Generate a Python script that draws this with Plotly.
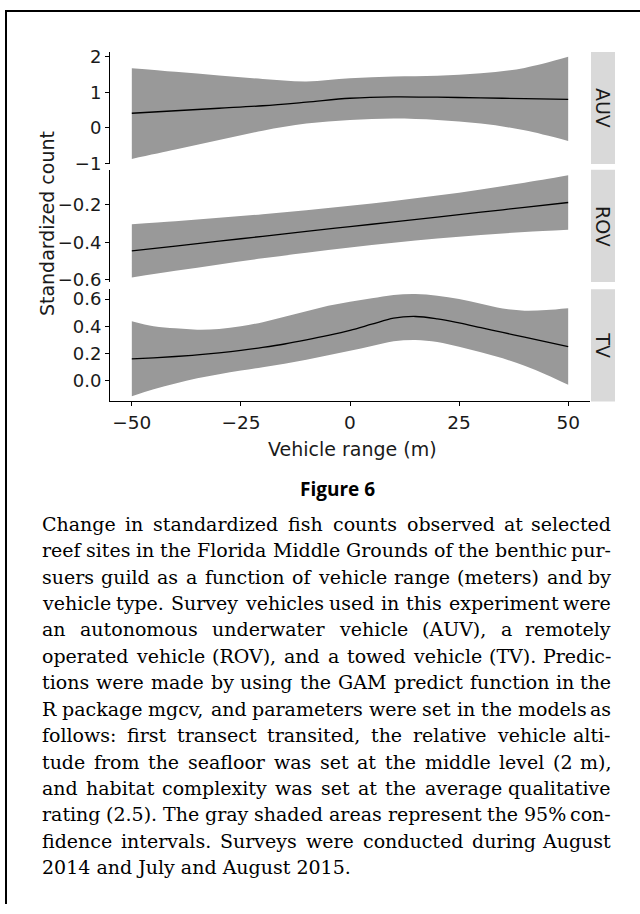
import plotly.graph_objects as go

W, H = 640, 914

# ---------------- data ----------------
panels = ["AUV", "ROV", "TV"]

x_auv = [-50, -40, -30, -20, -10, 0, 10, 20, 30, 40, 50]
fit_auv = [0.41, 0.48, 0.55, 0.62, 0.72, 0.83, 0.87, 0.86, 0.84, 0.82, 0.80]
upr_auv = [1.67, 1.57, 1.47, 1.37, 1.30, 1.39, 1.44, 1.46, 1.53, 1.68, 1.99]
lwr_auv = [-0.87, -0.61, -0.34, -0.08, 0.12, 0.22, 0.26, 0.22, 0.12, -0.07, -0.37]

x_rov = [-50, -40, -30, -20, -10, 0, 10, 20, 30, 40, 50]
fit_rov = [-0.446, -0.420, -0.394, -0.368, -0.342, -0.316, -0.291, -0.265, -0.239, -0.213, -0.187]
upr_rov = [-0.303, -0.287, -0.269, -0.250, -0.228, -0.204, -0.179, -0.150, -0.117, -0.081, -0.041]
lwr_rov = [-0.589, -0.553, -0.519, -0.486, -0.456, -0.428, -0.403, -0.380, -0.361, -0.345, -0.333]

x_tv = [-50, -45, -40, -35, -30, -25, -20, -15, -10, -5, 0, 5, 10, 15, 20, 25, 30, 35, 40, 45, 50]
fit_tv = [0.160, 0.168, 0.178, 0.190, 0.205, 0.223, 0.245, 0.270, 0.300, 0.333, 0.370,
          0.415, 0.460, 0.472, 0.455, 0.425, 0.390, 0.355, 0.320, 0.285, 0.250]
upr_tv = [0.437, 0.400, 0.385, 0.375, 0.380, 0.400, 0.430, 0.470, 0.510, 0.550, 0.580,
          0.605, 0.630, 0.637, 0.625, 0.600, 0.565, 0.530, 0.515, 0.520, 0.533]
lwr_tv = [-0.114, -0.063, -0.020, 0.018, 0.048, 0.075, 0.100, 0.125, 0.155, 0.187, 0.220,
          0.255, 0.290, 0.300, 0.285, 0.250, 0.210, 0.165, 0.110, 0.045, -0.030]

x_ticks = [-50, -25, 0, 25, 50]
x_ticktext = ["\u221250", "\u221225", "0", "25", "50"]
y_ticks = {
    "AUV": ([-1, 0, 1, 2], ["\u22121", "0", "1", "2"]),
    "ROV": ([-0.6, -0.4, -0.2], ["\u22120.6", "\u22120.4", "\u22120.2"]),
    "TV": ([0.0, 0.2, 0.4, 0.6], ["0.0", "0.2", "0.4", "0.6"]),
}
y_ranges = {"AUV": [-1.01, 2.13], "ROV": [-0.613, -0.012], "TV": [-0.152, 0.672]}
x_range = [-55, 55]

x_title = "Vehicle range (m)"
y_title = "Standardized count"
fig_label = "Figure 6"
caption_lines = [
    "Change in standardized fish counts observed at selected",
    "reef sites in the Florida Middle Grounds of the benthic pur-",
    "suers guild as a function of vehicle range (meters) and by",
    "vehicle type. Survey vehicles used in this experiment were",
    "an autonomous underwater vehicle (AUV), a remotely",
    "operated vehicle (ROV), and a towed vehicle (TV). Predic-",
    "tions were made by using the GAM predict function in the",
    "R package mgcv, and parameters were set in the models as",
    "follows: first transect transited, the relative vehicle alti-",
    "tude from the seafloor was set at the middle level (2 m),",
    "and habitat complexity was set at the average qualitative",
    "rating (2.5). The gray shaded areas represent the 95% con-",
    "fidence intervals. Surveys were conducted during August",
    "2014 and July and August 2015.",
]

series = {
    "AUV": (x_auv, fit_auv, upr_auv, lwr_auv),
    "ROV": (x_rov, fit_rov, upr_rov, lwr_rov),
    "TV": (x_tv, fit_tv, upr_tv, lwr_tv),
}

# ---------------- layout helpers (pixel -> paper) ----------------
def px(v):
    return v / W

def py(v):
    return 1 - v / H

panel_left, panel_right = 110, 590
strip_left, strip_right = 591, 615
panel_tops = {"AUV": (46.7, 160.7), "ROV": (166.7, 281.0), "TV": (288.3, 402.5)}

SANS = "DejaVu Sans"
SERIF = "DejaVu Serif"
TXT = "#1a1a1a"

# approximate advance widths of DejaVu Serif (per 1000 em), for justifying caption
SERIF_W = {
    " ": 318, "a": 596, "b": 640, "c": 560, "d": 640, "e": 592, "f": 371, "g": 640, "h": 644,
    "i": 320, "j": 310, "k": 606, "l": 320, "m": 948, "n": 644, "o": 602, "p": 640, "q": 640,
    "r": 478, "s": 513, "t": 402, "u": 644, "v": 565, "w": 856, "x": 564, "y": 565, "z": 523,
    "A": 722, "B": 735, "C": 765, "D": 802, "E": 730, "F": 694, "G": 799, "H": 872, "I": 395,
    "J": 401, "K": 747, "L": 664, "M": 1024, "N": 875, "O": 820, "P": 673, "Q": 820, "R": 753,
    "S": 685, "T": 667, "U": 843, "V": 722, "W": 1028, "X": 712, "Y": 660, "Z": 695,
    ".": 318, ",": 318, ":": 337, "(": 390, ")": 390, "-": 338, "%": 950,
}

def text_w(s, size):
    return sum(SERIF_W.get(ch, 636) for ch in s) * size / 1000.0

fig = go.Figure()
shapes = []
annotations = []

for i, name in enumerate(panels, start=1):
    xs, fit, upr, lwr = series[name]
    xa = "x" if i == 1 else f"x{i}"
    ya = "y" if i == 1 else f"y{i}"
    fig.add_trace(go.Scatter(x=xs, y=lwr, mode="lines", line=dict(width=0, shape="spline"),
                             xaxis=xa, yaxis=ya, showlegend=False, hoverinfo="skip"))
    fig.add_trace(go.Scatter(x=xs, y=upr, mode="lines", line=dict(width=0, shape="spline"),
                             fill="tonexty", fillcolor="#999999",
                             xaxis=xa, yaxis=ya, showlegend=False, hoverinfo="skip"))
    fig.add_trace(go.Scatter(x=xs, y=fit, mode="lines",
                             line=dict(color="black", width=1.3, shape="spline"),
                             xaxis=xa, yaxis=ya, showlegend=False))

    top, bot = panel_tops[name]
    dom = [py(bot), py(top)]
    is_bottom = (i == len(panels))
    xkey = "xaxis" if i == 1 else f"xaxis{i}"
    ykey = "yaxis" if i == 1 else f"yaxis{i}"
    fig.layout[xkey] = dict(
        domain=[px(panel_left), px(panel_right)], range=x_range, anchor=ya,
        showgrid=False, zeroline=False,
        showline=is_bottom, linecolor="black", linewidth=1,
        ticks="outside" if is_bottom else "", ticklen=4, tickwidth=1, tickcolor="black",
        tickvals=x_ticks, ticktext=x_ticktext, showticklabels=is_bottom,
        tickfont=dict(family=SANS, size=18.5, color=TXT),
        matches=None if i == 1 else "x",
    )
    tv, tt = y_ticks[name]
    fig.layout[ykey] = dict(
        domain=dom, range=y_ranges[name], anchor=xa,
        showgrid=False, zeroline=False,
        showline=True, linecolor="black", linewidth=1,
        ticks="outside", ticklen=4, tickwidth=1, tickcolor="black",
        tickvals=tv, ticktext=tt,
        tickfont=dict(family=SANS, size=18, color=TXT),
    )
    # facet strip
    shapes.append(dict(type="rect", xref="paper", yref="paper",
                       x0=px(strip_left), x1=px(strip_right), y0=py(bot), y1=py(top),
                       fillcolor="#d9d9d9", line=dict(width=0), layer="below"))
    annotations.append(dict(xref="paper", yref="paper", x=px((strip_left + strip_right) / 2),
                            y=py((top + bot) / 2), text=name, textangle=90, showarrow=False,
                            xanchor="center", yanchor="middle",
                            font=dict(family=SANS, size=19, color=TXT)))

# axis titles
annotations.append(dict(xref="paper", yref="paper", x=px(352), y=py(451), text=x_title,
                        showarrow=False, xanchor="center", yanchor="middle",
                        font=dict(family=SANS, size=19, color=TXT)))
annotations.append(dict(xref="paper", yref="paper", x=px(47), y=py(222), text=y_title,
                        textangle=-90, showarrow=False, xanchor="center", yanchor="middle",
                        font=dict(family=SANS, size=19, color=TXT)))

# Figure label
annotations.append(dict(xref="paper", yref="paper", x=px(337), y=py(492),
                        text="<b>" + fig_label + "</b>", showarrow=False,
                        xanchor="center", yanchor="middle",
                        font=dict(family="Open Sans", size=19, color="black")))

# caption, justified between cap_left and cap_right (last line left-aligned)
cap_top, cap_step = 527, 26.9
cap_left, cap_right = 40.5, 612.0
cap_size = 19
for k, line in enumerate(caption_lines):
    yk = py(cap_top + k * cap_step)
    words = line.split(" ")
    last = (k == len(caption_lines) - 1)
    if last or len(words) < 2:
        annotations.append(dict(xref="paper", yref="paper", x=px(cap_left), y=yk,
                                text=line, showarrow=False, xanchor="left", yanchor="middle",
                                borderpad=0,
                                font=dict(family=SERIF, size=cap_size, color="black")))
        continue
    widths = [text_w(wd, cap_size) for wd in words]
    gap = (cap_right - cap_left - sum(widths)) / (len(words) - 1)
    xpos = cap_left
    for j, wd in enumerate(words):
        if j == len(words) - 1:
            annotations.append(dict(xref="paper", yref="paper", x=px(cap_right), y=yk,
                                    text=wd, showarrow=False, xanchor="right", yanchor="middle",
                                    borderpad=0,
                                    font=dict(family=SERIF, size=cap_size, color="black")))
        else:
            annotations.append(dict(xref="paper", yref="paper", x=px(xpos), y=yk,
                                    text=wd, showarrow=False, xanchor="left", yanchor="middle",
                                    borderpad=0,
                                    font=dict(family=SERIF, size=cap_size, color="black")))
        xpos += widths[j] + gap

# frame (left and top edges visible)
shapes.append(dict(type="line", xref="paper", yref="paper", x0=px(6), x1=px(6),
                   y0=py(4.5), y1=0, line=dict(color="black", width=2)))
shapes.append(dict(type="line", xref="paper", yref="paper", x0=px(5), x1=1,
                   y0=py(5), y1=py(5), line=dict(color="black", width=2)))

fig.update_layout(
    width=W, height=H, margin=dict(l=0, r=0, t=0, b=0),
    paper_bgcolor="white", plot_bgcolor="white",
    shapes=shapes, annotations=annotations, showlegend=False,
)

fig.write_html("out.html", config={"displayModeBar": False},
               post_script="document.body.style.margin='0px';document.body.style.overflow='hidden';")
